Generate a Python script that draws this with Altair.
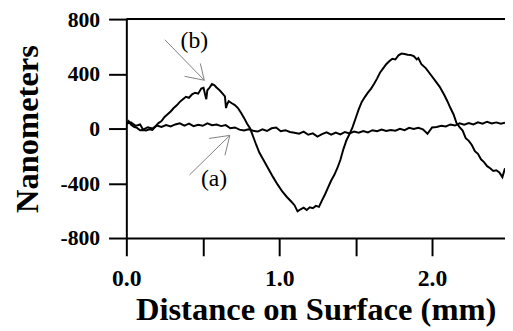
import altair as alt
import pandas as pd

# ---- data ----
a_x = [0.00,0.03,0.06,0.09,0.11,0.14,0.17,0.20,0.23,0.26,0.29,0.32,0.35,0.38,0.41,0.44,0.47,0.50,
       0.53,0.56,0.59,0.62,0.65,0.68,0.71,0.74,0.77,0.80,0.83,0.86,0.89,0.92,0.95,0.98,1.01,1.04,
       1.07,1.10,1.13,1.16,1.19,1.22,1.25,1.28,1.31,1.34,1.37,1.40,1.43,1.46,1.49,1.52,1.55,1.58,
       1.61,1.64,1.67,1.70,1.73,1.76,1.79,1.82,1.85,1.88,1.91,1.94,1.97,2.00,2.03,2.06,2.09,2.12,
       2.15,2.18,2.21,2.24,2.27,2.30,2.33,2.36,2.39,2.42,2.45,2.477]
a_nm = [35,45,20,30,-8,10,0,22,12,25,15,30,38,22,36,18,28,20,
        38,25,30,18,25,2,8,-8,-14,-5,-16,-22,-5,-18,2,8,-20,-12,
        -25,-30,-38,-22,-45,-35,-58,-40,-28,-45,-30,-42,-25,-35,-22,-30,-18,-28,
        -12,-20,-8,-18,-10,-15,-2,-12,5,-3,6,-5,-38,8,12,20,15,30,
        22,38,28,40,30,45,35,50,38,45,35,42]

b_x = [0.00,0.015,0.03,0.05,0.07,0.09,0.11,0.13,0.15,0.17,0.19,0.21,0.23,0.25,0.27,0.29,0.31,0.33,
       0.35,0.37,0.39,0.41,0.43,0.45,0.47,0.49,0.505,0.515,0.523,0.53,0.545,0.56,0.575,0.59,0.61,
       0.63,0.645,0.652,0.66,0.67,0.69,0.71,0.73,0.75,0.77,0.79,0.81,0.83,0.85,0.87,0.90,0.93,
       0.96,0.99,1.02,1.05,1.08,1.10,1.12,1.14,1.16,1.18,1.20,1.22,1.24,1.26,1.28,1.30,1.32,1.34,
       1.36,1.38,1.40,1.42,1.44,1.46,1.48,1.50,1.52,1.54,1.56,1.58,1.60,1.62,1.64,1.66,1.68,1.70,
       1.72,1.74,1.76,1.78,1.80,1.82,1.84,1.86,1.88,1.90,1.91,1.93,1.96,1.99,2.02,2.05,2.08,2.10,
       2.12,2.14,2.16,2.18,2.20,2.22,2.24,2.26,2.28,2.30,2.32,2.34,2.36,2.38,2.40,2.42,2.44,2.46,2.477]
b_nm = [35,55,30,12,5,-12,-10,-14,-5,-10,15,40,55,85,105,125,150,170,
        195,215,232,225,250,262,255,292,298,250,215,280,300,325,318,300,280,
        255,235,150,180,200,185,172,150,115,78,35,0,-60,-120,-175,-235,-295,
        -355,-410,-460,-500,-535,-560,-605,-590,-578,-595,-575,-582,-565,-572,-525,-480,-430,-380,
        -340,-290,-230,-150,-85,-40,10,75,140,195,230,262,290,325,365,410,440,470,
        492,510,505,535,548,545,540,538,530,505,515,470,440,395,350,305,245,200,
        150,105,40,10,-15,-70,-90,-120,-165,-185,-225,-245,-275,-290,-310,-305,-320,-355,-290]

x_ticks = [0, 0.5, 1.0, 1.5, 2.0]
y_ticks = [-800, -400, 0, 400, 800]

label_text = ["(b)", "(a)"]
label_x = [0.445, 0.574]
label_y = [641, -368]

# arrow segments: (x, y) -> (x2, y2)
arrow_x = [0.252, 0.381, 0.484, 0.413, 0.542, 0.645]
arrow_y = [649, 382, 476, -339, -72, -195]
arrow_x2 = [0.510, 0.510, 0.510, 0.677, 0.677, 0.677]
arrow_y2 = [353, 353, 353, -50, -50, -50]

FONT = "Liberation Serif"

xs = alt.Scale(domain=[0, 2.477], nice=False, zero=False)
ys = alt.Scale(domain=[-800, 800], nice=False)

x_axis = alt.Axis(values=x_ticks,
                  labelExpr="datum.value % 1 === 0 ? format(datum.value, '.1f') : ''",
                  title="Distance on Surface (mm)", labelFontSize=24,
                  titleX=192, titleY=83, titleBaseline="alphabetic", titleAlign="center",
                  labelPadding=11)
y_axis = alt.Axis(values=y_ticks, labelExpr="'' + datum.value",
                  title="Nanometers", labelFontSize=22,
                  titleX=-90, titleY=111, titleBaseline="alphabetic", titleAlign="center",
                  titleAngle=270, labelPadding=9)

df_a = pd.DataFrame({"x": a_x, "nm": a_nm})
df_b = pd.DataFrame({"x": b_x, "nm": b_nm})
df_lab = pd.DataFrame({"x": label_x, "nm": label_y, "t": label_text})
df_arr = pd.DataFrame({"x": arrow_x, "nm": arrow_y, "x2": arrow_x2, "nm2": arrow_y2})

line_a = alt.Chart(df_a).mark_line(color="black", strokeWidth=2, clip=True).encode(
    x=alt.X("x:Q", scale=xs, axis=x_axis),
    y=alt.Y("nm:Q", scale=ys, axis=y_axis))
line_b = alt.Chart(df_b).mark_line(color="black", strokeWidth=2, clip=True).encode(
    x=alt.X("x:Q", scale=xs, axis=x_axis), y=alt.Y("nm:Q", scale=ys, axis=y_axis))
top_line = alt.Chart(pd.DataFrame({"nm": [800]})).mark_rule(color="black", strokeWidth=2).encode(
    y=alt.Y("nm:Q", scale=ys, axis=y_axis))
arrows = alt.Chart(df_arr).mark_rule(color="#808080", strokeWidth=1).encode(
    x=alt.X("x:Q", scale=xs, axis=x_axis), y=alt.Y("nm:Q", scale=ys, axis=y_axis),
    x2="x2:Q", y2="nm2:Q")
labels = alt.Chart(df_lab).mark_text(font=FONT, fontSize=24, color="black",
                                     align="center", baseline="middle").encode(
    x=alt.X("x:Q", scale=xs, axis=x_axis), y=alt.Y("nm:Q", scale=ys, axis=y_axis), text="t:N")

chart = alt.layer(line_a, line_b, top_line, arrows, labels).properties(
    width=384, height=222,
    autosize=alt.AutoSizeParams(type="none"),
    padding={"left": 120, "top": 9, "right": 0, "bottom": 90},
).configure_view(stroke=None).configure(background="white", font=FONT).configure_axis(
    tickSize=18, tickWidth=2, tickColor="black",
    domainColor="black", domainWidth=2, grid=False,
    labelFont=FONT, labelFontWeight="bold", labelColor="black",
    labelOverlap=False, labelFlush=False,
    titleFont=FONT, titleFontSize=33, titleFontWeight="bold", titleColor="black",
)

chart.save("out.html", embed_options={"renderer": "svg", "actions": False})
